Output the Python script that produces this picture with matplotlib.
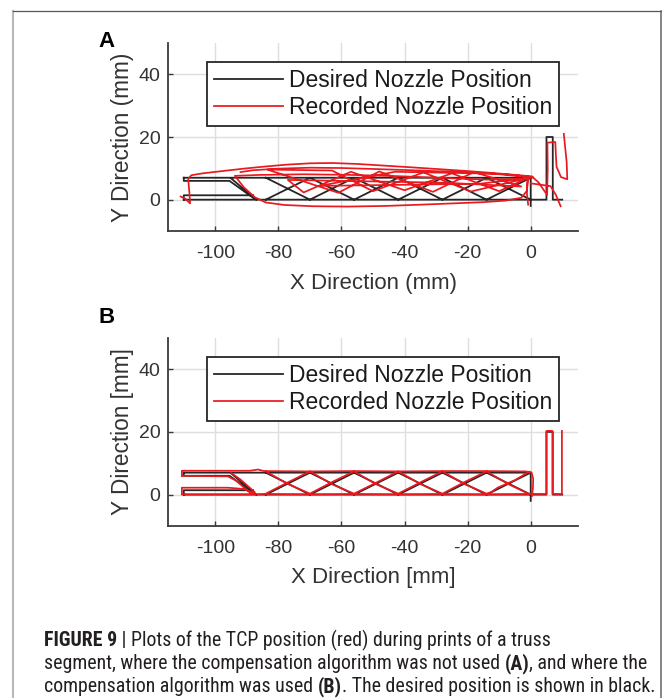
import numpy as np
import matplotlib
matplotlib.use("Agg")
import matplotlib.pyplot as plt
from matplotlib.lines import Line2D
from matplotlib import font_manager as fm

plt.rcParams['font.family'] = ['Liberation Sans', 'DejaVu Sans']
plt.rcParams['axes.unicode_minus'] = False

# ---------------- data ----------------
x_ticks = [-100, -80, -60, -40, -20, 0]
y_ticks = [0, 20, 40]
x_limits = (-115, 15)
y_limits = (-10, 50)
legend_labels = ["Desired Nozzle Position", "Recorded Nozzle Position"]
panel_letters = ["A", "B"]
x_labels = ["X Direction (mm)", "X Direction [mm]"]
y_labels = ["Y Direction (mm)", "Y Direction [mm]"]

nan = np.nan
# desired nozzle path (same in both panels), segments split by NaN
desired_x = [-110, 0, 0, nan,
             -110, -110, -95.5, -88, nan,
             -95, -87, nan,
             -110, -110, -88, nan,
             -110, 0, 5, 5, 7, 7, 10, nan,
             -84, -70, -56, -42, -28, -14, 0, nan,
             -84, -70, -56, -42, -28, -14, 0]
desired_y = [7, 7, -2, nan,
             7, 6, 6, 0.6, nan,
             6.8, 0, nan,
             0, 1.4, 1.4, nan,
             0, 0, 0, 20, 20, 0, 0, nan,
             0, 7, 0, 7, 0, 7, 0, nan,
             7, 0, 7, 0, 7, 0, 7]

# recorded path without compensation (panel A)
recorded_a_x = [-111.0, -109.5, -108.0, -108.2, -108.6, -107.6, -104.0, -98.0, -91.0, -84.0, -77.0,
                -70.0, -63.0, -55.0, -47.0, -39.0, -30.0, -21.0, -13.0, -6.0, -1.5, 0.8,
                -3.0, -14.0, -27.0, -42.0, -57.0, -72.0, -86.0, -93.8, -91.0, -87.5, -84.0,
                -78.0, -69.0, -58.0, -46.0, -35.0, -25.0, -15.0, -8.0, -3.0, -1.2, -0.8,
                -19.0, -34.0, -50.0, -63.0, -83.5, -61.0, -48.0, -31.0, -18.0, -3.0, -27.0,
                -54.0, -77.0, -72.0, -57.0, -40.0, -25.0, -10.0, -1.0, -16.0, -44.0, -67.0,
                -43.0, -12.0, -1.5, 0.3, 2.5, 5.2, 5.4, 5.3, 7.8, 8.0, 8.2, 9.6, 11.6, 11.4,
                10.9, 10.5, nan,
                -1.0, -1.2, -0.8, nan,
                0.0, 3.0, 6.3, 8.0, 9.5, nan,
                -92.0, -88.0, -80.0, -70.0, -60.0, -50.0, -35.0, -20.0, -8.0, -1.0]
recorded_a_y = [1.0, 0.3, -1.2, 2.0, 6.6, 7.8, 8.4, 9.1, 9.9, 10.6, 11.2,
                11.6, 11.7, 11.4, 10.9, 10.4, 9.8, 9.2, 8.6, 8.0, 7.6, 7.1,
                6.6, 6.4, 6.9, 7.5, 7.9, 8.1, 7.9, 7.6, 4.0, 0.8, -0.9,
                -1.7, -2.1, -2.2, -2.0, -1.6, -1.2, -0.8, -0.3, 0.6, 2.8, 6.9,
                2.6, 8.7, 2.7, 9.3, 9.6, 2.2, 9.0, 2.5, 8.8, 4.2, 5.4,
                5.9, 6.3, 2.3, 8.9, 3.0, 8.4, 2.7, 6.9, 5.1, 4.7, 4.4,
                8.9, 8.3, 7.3, 7.5, 5.5, 1.5, 10.0, 18.2, 18.4, 14.0, 10.5, 7.2, 6.5, 12.0,
                17.0, 21.0, nan,
                7.6, 2.0, -1.6, nan,
                5.2, 4.8, 4.3, 1.5, -2.1, nan,
                8.8, 9.4, 9.9, 10.2, 10.1, 9.8, 9.3, 8.7, 8.1, 7.4]

# recorded path with compensation (panel B)
recorded_b_x = [-110.6, -110.6, -96, -89, -86.5, -84.5, -70, -56, -42, -28, -14, -1.5, 0.3, 0.8, 0.7, 0.4, nan,
                -110.6, -96, -93.5, -89, -87.5, -92, -95, nan,
                -110.6, -110.6, -96, -91, -88, nan,
                -110.6, -88, -84, -70, -56, -42, -28, -14, 0.4, 5.0, 5.0, 6.9, 6.9, 9.9, 9.9, nan,
                -84, -77, -70, -63, -56, -49, -42, -35, -28, -21, -14, -7, -0.5, nan,
                -84, -77, -70, -63, -56, -49, -42, -35, -28, -21, -14, -12.5, -10.5, -5, -0.5]
recorded_b_y = [6.0, 7.6, 7.6, 7.6, 8.0, 7.5, 7.4, 7.5, 7.4, 7.5, 7.5, 7.4, 7.0, 5.0, 2.0, -0.5, nan,
                6.0, 5.8, 4.5, 0.6, 0.8, 4.8, 6.9, nan,
                0.1, 2.2, 2.2, 1.8, 0.6, nan,
                0.1, 0.1, 0.2, 0.1, 0.2, 0.1, 0.2, 0.1, 0.2, 0.2, 20.3, 20.3, 0.2, 0.2, 20.3, nan,
                0.3, 3.9, 7.4, 3.3, 0.3, 3.8, 7.4, 3.4, 0.3, 4.0, 7.4, 3.3, 0.2, nan,
                7.4, 3.4, 0.3, 4.0, 7.4, 3.3, 0.3, 3.9, 7.4, 3.4, 0.3, 0.8, 2.2, 4.6, 7.3]

caption_lines = [
    [("FIGURE 9", "bold"), (" | ", "normal"), ("Plots of the TCP position (red) during prints of a truss", "normal")],
    [("segment, where the compensation algorithm was not used ", "normal"), ("(A)", "bold"), (", and where the", "normal")],
    [("compensation algorithm was used ", "normal"), ("(B)", "bold"), (". The desired position is shown in black.", "normal")],
]

# ---------------- figure ----------------
W, H = 663, 698
fig = plt.figure(figsize=(W / 100, H / 100), dpi=100)
fig.patch.set_facecolor("white")

DARK = "#262626"
TXT = "#333333"
RED = "#e8191f"

def px_axes(left, top, right, bottom):
    return [left / W, 1 - bottom / H, (right - left) / W, (bottom - top) / H]

axes_boxes = [px_axes(168, 43, 578, 231), px_axes(168, 337.7, 578, 526)]
recorded = [(recorded_a_x, recorded_a_y), (recorded_b_x, recorded_b_y)]
letter_baselines = [47, 323]
xlabel_centers = [283, 578]

for i, box in enumerate(axes_boxes):
    ax = fig.add_axes(box)
    ax.set_axisbelow(True)
    ax.grid(True, color="#dedede", linewidth=1.0)
    l1, = ax.plot(desired_x, desired_y, color=DARK, linewidth=1.3)
    rx, ry = recorded[i]
    l2, = ax.plot(rx, ry, color=RED, linewidth=1.25)
    ax.set_xlim(*x_limits)
    ax.set_ylim(*y_limits)
    ax.set_xticks(x_ticks)
    ax.set_xticklabels([str(v) for v in x_ticks])
    ax.set_yticks(y_ticks)
    ax.set_yticklabels([str(v) for v in y_ticks])
    for s in ("top", "right"):
        ax.spines[s].set_visible(False)
    for s in ("left", "bottom"):
        ax.spines[s].set_color("#3a3a3a")
        ax.spines[s].set_linewidth(1.3)
    ax.tick_params(direction="in", length=3.5, width=1.0, color="#3a3a3a",
                   labelsize=14, labelcolor=TXT)
    ax.tick_params(axis="x", pad=10.0)
    ax.tick_params(axis="y", pad=5.5)
    ax.set_xlabel(x_labels[i], fontsize=16, color=TXT, va="center")
    ax.xaxis.set_label_coords(0.5, ((H - xlabel_centers[i]) - box[1] * H) / (box[3] * H))
    ax.set_ylabel(y_labels[i], fontsize=16.3, color=TXT, va="center")
    ax.yaxis.set_label_coords(-0.112, 0.5)
    leg = ax.legend([l1, l2], legend_labels, loc="upper left",
                    bbox_to_anchor=(0.095, 0.899), borderaxespad=0.0,
                    fontsize=16.5, handlelength=3.0, handletextpad=0.27,
                    labelspacing=0.2, borderpad=0.3, fancybox=False,
                    framealpha=1.0, edgecolor=DARK)
    leg.get_frame().set_linewidth(1.3)
    for t in leg.get_texts():
        t.set_color("#1a1a1a")
    fig.text(98 / W, 1 - letter_baselines[i] / H, panel_letters[i],
             fontsize=16, fontweight="bold", color="black",
             ha="left", va="baseline")

# ---------------- border ----------------
fig.add_artist(Line2D([13 / W, 13 / W], [0, 1 - 11 / H], transform=fig.transFigure,
                      color="#b8b8b8", linewidth=1.5))
fig.add_artist(Line2D([13 / W, 661 / W], [1 - 11 / H, 1 - 11 / H], transform=fig.transFigure,
                      color="#555555", linewidth=0.9))
fig.add_artist(Line2D([661 / W, 661 / W], [0, 1 - 11 / H], transform=fig.transFigure,
                      color="#666666", linewidth=1.1))

# ---------------- caption ----------------
def pick_caption_font():
    cands = [("Liberation Sans Narrow", "normal"), ("Roboto Condensed", "normal"),
             ("DejaVu Sans", "condensed"), ("Noto Sans", "condensed"),
             ("Open Sans", "condensed"), ("Roboto", "condensed")]
    for fam, st in cands:
        try:
            path = fm.findfont(fm.FontProperties(family=fam, stretch=st),
                               fallback_to_default=False)
        except Exception:
            continue
        low = path.lower()
        if st == "normal" or "condensed" in low or "narrow" in low:
            return fam, st
    return "Liberation Sans", "normal"

cap_family, cap_stretch = pick_caption_font()
renderer = fig.canvas.get_renderer()

def run_width(text, weight, size):
    kw = dict(fontsize=size, fontweight=weight, family=cap_family, fontstretch=cap_stretch)
    t1 = fig.text(0, 0, text + "|", **kw)
    t2 = fig.text(0, 0, "|", **kw)
    w = t1.get_window_extent(renderer).width - t2.get_window_extent(renderer).width
    t1.remove(); t2.remove()
    return w

cap_x0 = 44
cap_target = 648 - cap_x0
base_size = 12.0
w2 = sum(run_width(t, wt, base_size) for t, wt in caption_lines[1])
cap_size = base_size * cap_target / w2
cap_baselines = [646, 669, 692]
for runs, base in zip(caption_lines, cap_baselines):
    x = cap_x0
    for text, weight in runs:
        fig.text(x / W, 1 - base / H, text, fontsize=cap_size, fontweight=weight,
                 family=cap_family, fontstretch=cap_stretch, color="#231f20",
                 ha="left", va="baseline")
        x += run_width(text, weight, cap_size)

fig.savefig("out.png", dpi=100)
